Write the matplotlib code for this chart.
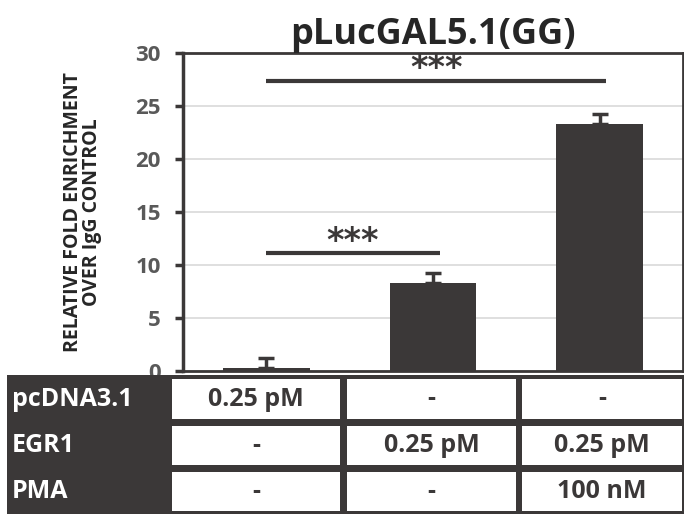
import numpy as np
import matplotlib
matplotlib.use("Agg")
from matplotlib import pyplot as plt
from matplotlib.patches import Rectangle

plt.rcParams['font.family'] = ['Open Sans', 'DejaVu Sans']
plt.rcParams['font.weight'] = 'bold'

# data
groups = ['pcDNA3.1', 'EGR1', 'EGR1 + PMA']
values = [0.25, 8.3, 23.3]
errors = [0.95, 0.9, 0.9]
sig_pairs = [(0, 1, 11.1), (0, 2, 27.4)]
sig_labels = ['***', '***']
row_labels = ['pcDNA3.1', 'EGR1', 'PMA']
cell_text = [['0.25 pM', '-', '-'],
             ['-', '0.25 pM', '0.25 pM'],
             ['-', '-', '100 nM']]

dark = '#3b3838'
grey_txt = '#595959'

W, H = 684, 514
fig = plt.figure(figsize=(W / 100, H / 100), dpi=100)

def fig_box(x0, y0, x1, y1):
    # pixel box (top-left origin) -> figure fraction
    return [x0 / W, 1 - y1 / H, (x1 - x0) / W, (y1 - y0) / H]

ax = fig.add_axes(fig_box(183, 53, 683, 371))
x = np.arange(len(groups))
ax.bar(x, values, width=0.52, color=dark, zorder=3)
ax.errorbar(x, values, yerr=[np.zeros(len(errors)), errors], fmt='none',
            ecolor=dark, elinewidth=2.5, capsize=6, capthick=2.5, zorder=4)

for (i, j, h), lab in zip(sig_pairs, sig_labels):
    ax.plot([i, j + 0.04], [h, h], color=dark, lw=3, solid_capstyle='butt', zorder=4)
    ax.text((i + j + 0.04) / 2, h + 0.25, lab, ha='center', va='baseline',
            fontsize=24, color=dark, fontweight='bold', family='DejaVu Sans', zorder=5)

ax.set_xlim(-0.5, 2.5)
ax.set_ylim(0, 30)
ax.set_yticks(np.arange(0, 31, 5))
ax.set_xticks([])
ax.yaxis.grid(True, color='#d9d9d9', lw=1.2, zorder=0)
ax.set_axisbelow(True)
for s in ax.spines.values():
    s.set_color(dark)
    s.set_linewidth(2)
ax.spines['left'].set_linewidth(2.5)
ax.tick_params(axis='y', direction='out', length=6, width=2.5, color=dark,
               labelsize=16, labelcolor=grey_txt, pad=10)
for t in ax.get_yticklabels():
    t.set_fontweight('bold')

ax.set_title('pLucGAL5.1(GG)', fontsize=26, fontweight='bold', color='#262626', pad=2)
ax.set_ylabel('RELATIVE FOLD ENRICHMENT\nOVER IgG CONTROL', fontsize=14,
              fontweight='bold', color='#262626', labelpad=24, linespacing=0.92)

# table drawn underneath the axes
tax = fig.add_axes([0, 0, 1, 1 - 375 / H])
tax.set_xlim(0, W)
tax.set_ylim(H, 375)
tax.axis('off')
tax.add_patch(Rectangle((7, 375), W - 7, H - 375, color=dark, lw=0))
col_edges = [(172, 340), (347, 516), (522, 682)]
row_edges = [(379, 419), (426, 465), (472, 511)]
for r, (y0, y1) in enumerate(row_edges):
    yc = (y0 + y1) / 2
    tax.text(12, yc, row_labels[r], ha='left', va='center', color='white',
             fontsize=18, fontweight='bold')
    for c, (x0, x1) in enumerate(col_edges):
        tax.add_patch(Rectangle((x0, y0), x1 - x0, y1 - y0, color='white', lw=0))
        tax.text((x0 + x1) / 2, yc, cell_text[r][c], ha='center', va='center',
                 color=dark, fontsize=18, fontweight='bold')

fig.savefig('out.png', dpi=100)
